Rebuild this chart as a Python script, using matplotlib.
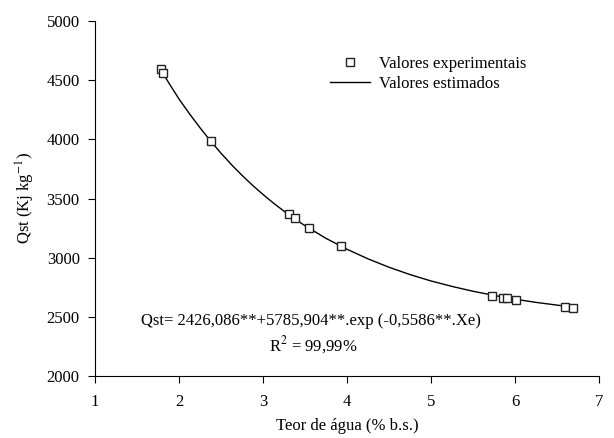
import numpy as np
import matplotlib.pyplot as plt

plt.rcParams['font.family'] = ['Liberation Serif', 'DejaVu Serif']
plt.rcParams['mathtext.fontset'] = 'stix'

# experimental points
xe = [1.78, 1.81, 2.38, 3.31, 3.38, 3.55, 3.93, 5.73, 5.86, 5.91, 6.01, 6.59, 6.69]
qst = [4592, 4563, 3988, 3369, 3333, 3248, 3096, 2679, 2662, 2659, 2642, 2586, 2575]

# estimated curve
xc = [1.78, 1.9, 2.0, 2.125, 2.25, 2.375, 2.5, 2.625, 2.75, 2.875, 3.0, 3.125, 3.25,
      3.375, 3.5, 3.75, 4.0, 4.25, 4.5, 4.75, 5.0, 5.25, 5.5, 5.75, 6.0, 6.25, 6.5, 6.7]
qc = [4590, 4453, 4341, 4216, 4098, 3987, 3883, 3786, 3696, 3612, 3534, 3461, 3393,
      3329, 3270, 3163, 3071, 2990, 2919, 2857, 2803, 2757, 2716, 2681, 2649, 2622, 2599, 2581]

fs = 12

fig = plt.figure(figsize=(6.14, 4.38), dpi=100)
ax = fig.add_axes([0.1547, 0.1416, 0.8209, 0.8104])

ax.plot(xe, qst, 's', mfc='white', mec='#222222', ms=6, mew=1.0, label='Valores experimentais', zorder=3)
ax.plot(xc, qc, '-', color='black', lw=1.0, label='Valores estimados')

ax.set_xlim(1, 7)
ax.set_ylim(2000, 5000)
ax.set_xticks(np.arange(1, 8, 1))
ax.set_yticks(np.arange(2000, 5001, 500))
ax.spines['top'].set_visible(False)
ax.spines['right'].set_visible(False)
ax.tick_params(axis='y', direction='out', length=5, labelsize=fs, pad=6)
ax.tick_params(axis='x', direction='out', length=5, labelsize=fs, pad=8)

ax.set_xlabel('Teor de água (% b.s.)', fontsize=fs, labelpad=6)
ax.set_ylabel('Qst (Kj kg$^{-1}$)', fontsize=fs, labelpad=7)

ax.text(3.57, 2465, 'Qst= 2426,086**+5785,904**.exp (-0,5586**.Xe)', ha='center', va='center', fontsize=fs)
ax.text(3.6, 2262, 'R$^{2}$ = 99,99%', ha='center', va='center', fontsize=fs)

ax.legend(loc='upper left', bbox_to_anchor=(0.466, 0.902), frameon=False, fontsize=fs,
          handlelength=2.4, handletextpad=0.55, labelspacing=0.25, borderaxespad=0, borderpad=0)

fig.savefig('out.png', dpi=100)
